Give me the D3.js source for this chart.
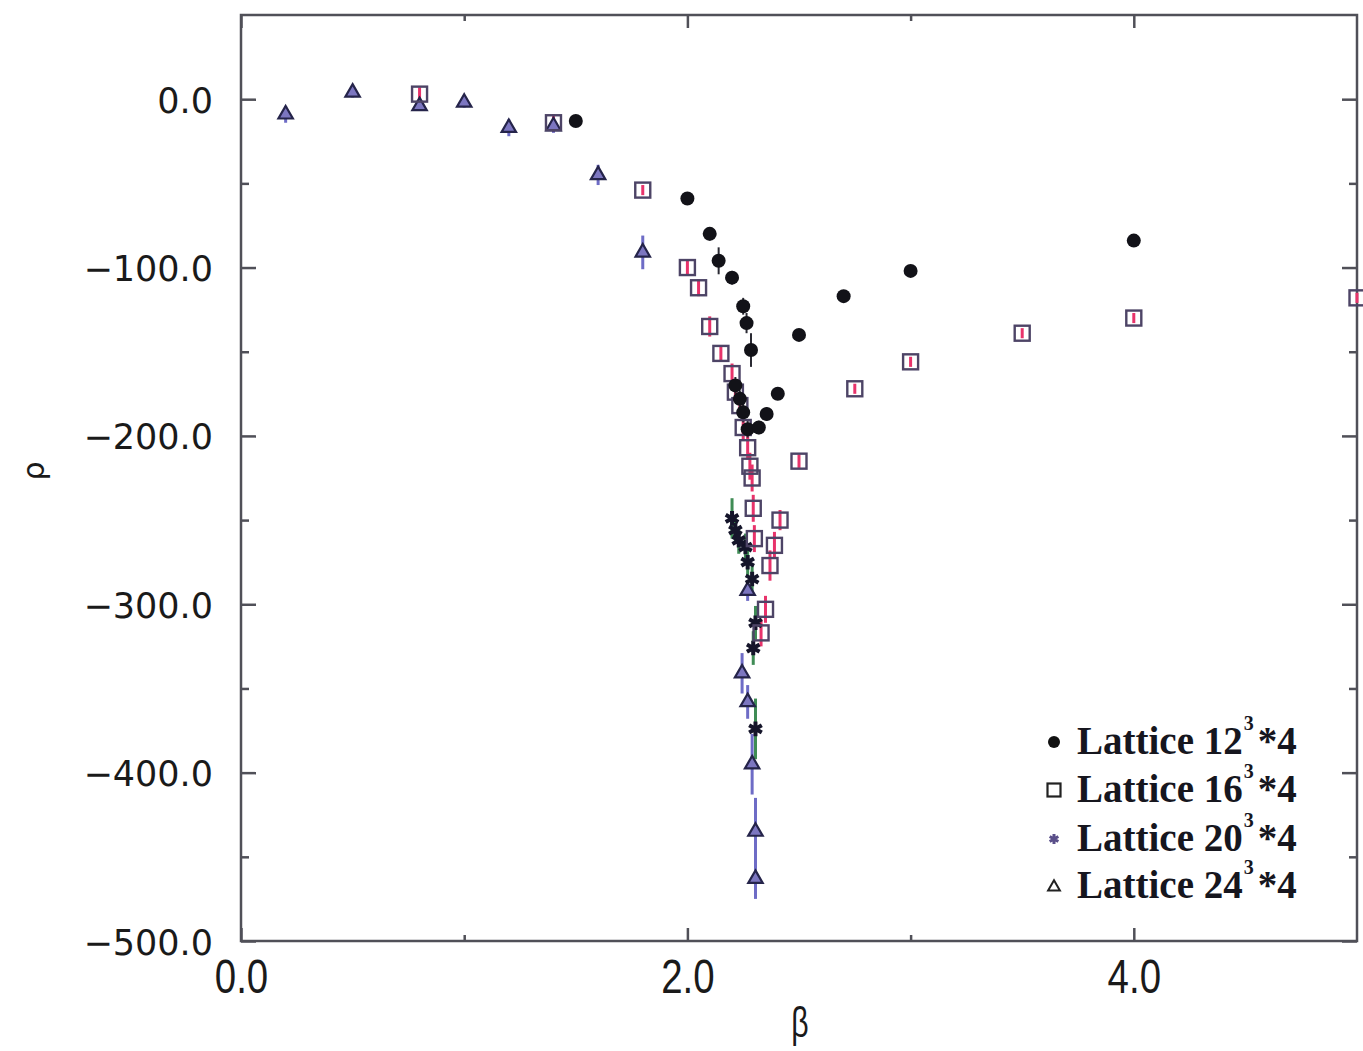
<!DOCTYPE html>
<html>
<head>
<meta charset="utf-8">
<script src="https://cdn.jsdelivr.net/npm/d3@7"></script>
<style>
  body { margin: 0; background: #ffffff; }
  svg { display: block; }
</style>
</head>
<body>
<svg id="chart" width="1363" height="1051"></svg>
<script>
// Each entry: [beta, rho, error]
const lattice12 = [
  [1.5, -13, 2], [2.0, -59, 3], [2.1, -80, 4], [2.14, -96, 8], [2.2, -106, 4],
  [2.25, -123, 5], [2.265, -133, 6], [2.285, -149, 10],
  [2.215, -170, 5], [2.235, -178, 5], [2.25, -186, 6], [2.27, -196, 5],
  [2.32, -195, 4], [2.355, -187, 4], [2.405, -175, 3],
  [2.5, -140, 3], [2.7, -117, 3], [3.0, -102, 2], [4.0, -84, 2]
];
const lattice16 = [
  [0.8, 3, 4], [1.4, -14, 5], [1.8, -54, 3], [2.0, -100, 4], [2.05, -112, 5],
  [2.1, -135, 6], [2.15, -151, 5], [2.2, -163, 6], [2.215, -174, 6],
  [2.235, -182, 6], [2.25, -195, 7], [2.27, -207, 7], [2.28, -218, 8],
  [2.29, -225, 8], [2.295, -243, 8], [2.3, -261, 8], [2.33, -317, 8],
  [2.35, -303, 8], [2.37, -277, 9], [2.39, -265, 8], [2.415, -250, 6],
  [2.5, -215, 4], [2.75, -172, 3], [3.0, -156, 3], [3.5, -139, 3],
  [4.0, -130, 3], [5.0, -118, 3]
];
const lattice20 = [
  [2.2, -249, 12], [2.215, -256, 8], [2.23, -262, 8], [2.26, -266, 8],
  [2.27, -275, 8], [2.29, -285, 8], [2.305, -311, 10], [2.295, -326, 10],
  [2.305, -374, 18]
];
const lattice24 = [
  [0.2, -9, 5], [0.5, 4, 3], [0.8, -4, 3], [1.0, -2, 3], [1.2, -17, 5],
  [1.4, -16, 4], [1.6, -45, 6], [1.8, -91, 10], [2.27, -292, 6],
  [2.245, -341, 12], [2.27, -358, 10], [2.29, -395, 18], [2.305, -435, 20],
  [2.305, -463, 12]
];

const xMajorTicks = [0, 2, 4];
const xMinorTicks = [1, 3];
const yMajorTicks = [0, -100, -200, -300, -400, -500];
const yMinorTicks = [-50, -150, -250, -350, -450];
const legendSizes = ["12", "16", "20", "24"];

const svg = d3.select("#chart");
const x = d3.scaleLinear().domain([0, 5]).range([241, 1357]);
const y = d3.scaleLinear().domain([-500, 50]).range([941, 15]);

const axisColor = "#505058";
const fmt = d3.format(".1f");

// plot frame
svg.append("rect")
  .attr("x", x(0)).attr("y", y(50))
  .attr("width", x(5) - x(0)).attr("height", y(-500) - y(50))
  .attr("fill", "none").attr("stroke", axisColor).attr("stroke-width", 2.5);

function styleAxis(g) {
  g.select(".domain").remove();
  g.selectAll(".tick line").attr("stroke", axisColor).attr("stroke-width", 2.5);
}

// bottom axis with labels
const gx = svg.append("g").attr("transform", `translate(0,${y(-500)})`)
  .call(d3.axisBottom(x).tickValues(xMajorTicks).tickSize(-13).tickFormat(fmt));
styleAxis(gx);
gx.selectAll(".tick text")
  .attr("y", 52).attr("dy", 0)
  .attr("transform", "scale(0.8,1)")
  .attr("font-family", "Liberation Sans, Arial, sans-serif")
  .attr("font-size", 48).attr("fill", "#1a1a1a");
svg.append("g").attr("transform", `translate(0,${y(-500)})`)
  .call(d3.axisBottom(x).tickValues(xMinorTicks).tickSize(-6).tickFormat(""))
  .call(styleAxis);

// top axis ticks
svg.append("g").attr("transform", `translate(0,${y(50)})`)
  .call(d3.axisTop(x).tickValues(xMajorTicks).tickSize(-13).tickFormat(""))
  .call(styleAxis);
svg.append("g").attr("transform", `translate(0,${y(50)})`)
  .call(d3.axisTop(x).tickValues(xMinorTicks).tickSize(-6).tickFormat(""))
  .call(styleAxis);

// left axis with labels
const gy = svg.append("g").attr("transform", `translate(${x(0)},0)`)
  .call(d3.axisLeft(y).tickValues(yMajorTicks).tickSize(-15).tickFormat(fmt));
styleAxis(gy);
gy.selectAll(".tick text")
  .attr("x", -28).attr("dy", 0).attr("y", 13)
  .attr("font-family", "DejaVu Sans, sans-serif")
  .attr("font-size", 35).attr("fill", "#1a1a1a");
svg.append("g").attr("transform", `translate(${x(0)},0)`)
  .call(d3.axisLeft(y).tickValues(yMinorTicks).tickSize(-8).tickFormat(""))
  .call(styleAxis);

// right axis ticks
svg.append("g").attr("transform", `translate(${x(5)},0)`)
  .call(d3.axisRight(y).tickValues(yMajorTicks).tickSize(-15).tickFormat(""))
  .call(styleAxis);
svg.append("g").attr("transform", `translate(${x(5)},0)`)
  .call(d3.axisRight(y).tickValues(yMinorTicks).tickSize(-8).tickFormat(""))
  .call(styleAxis);

// axis titles
svg.append("text")
  .attr("transform", "translate(800,1037) scale(0.72,1)")
  .attr("text-anchor", "middle")
  .attr("font-family", "Liberation Sans, Arial, sans-serif")
  .attr("font-size", 42).attr("fill", "#1a1a1a")
  .text("β");
svg.append("text")
  .attr("transform", "translate(44,471) rotate(-90)")
  .attr("text-anchor", "middle")
  .attr("font-family", "DejaVu Sans, sans-serif")
  .attr("font-size", 30).attr("fill", "#1a1a1a")
  .text("ρ");

// error bars
function errorBars(data, color, width) {
  svg.append("g").selectAll("line").data(data).join("line")
    .attr("x1", d => x(d[0])).attr("x2", d => x(d[0]))
    .attr("y1", d => y(d[1] + d[2])).attr("y2", d => y(d[1] - d[2]))
    .attr("stroke", color).attr("stroke-width", width);
}
errorBars(lattice24, "#6e6cc6", 3);
errorBars(lattice20, "#3f8c55", 3);
errorBars(lattice16, "#e8336b", 3);
errorBars(lattice12, "#2a2a33", 2);

const tri = d3.symbol().type(d3.symbolTriangle).size(90);
const star = d3.symbol().type(d3.symbolAsterisk).size(150);

// 24^3 triangles
svg.append("g").selectAll("path").data(lattice24).join("path")
  .attr("transform", d => `translate(${x(d[0])},${y(d[1])})`)
  .attr("d", tri)
  .attr("fill", "#7c76c0").attr("stroke", "#25244a").attr("stroke-width", 2.2);

// 20^3 stars
svg.append("g").selectAll("path").data(lattice20).join("path")
  .attr("transform", d => `translate(${x(d[0])},${y(d[1])})`)
  .attr("d", star)
  .attr("fill", "none").attr("stroke", "#15152a").attr("stroke-width", 4);

// 16^3 open squares
svg.append("g").selectAll("rect").data(lattice16).join("rect")
  .attr("x", d => x(d[0]) - 7.5).attr("y", d => y(d[1]) - 7.5)
  .attr("width", 15).attr("height", 15)
  .attr("fill", "none").attr("stroke", "#4d4466").attr("stroke-width", 2.4);

// 12^3 filled circles
svg.append("g").selectAll("circle").data(lattice12).join("circle")
  .attr("cx", d => x(d[0])).attr("cy", d => y(d[1]))
  .attr("r", 7).attr("fill", "#121218");

// legend
const legendX = 1054, textX = 1077;
const rowY = [742, 790, 839, 886];
const lg = svg.append("g");
lg.append("circle").attr("cx", legendX).attr("cy", rowY[0]).attr("r", 6).attr("fill", "#111");
lg.append("rect").attr("x", legendX - 6.5).attr("y", rowY[1] - 6.5)
  .attr("width", 13).attr("height", 13)
  .attr("fill", "none").attr("stroke", "#222").attr("stroke-width", 2.2);
lg.append("path").attr("transform", `translate(${legendX},${rowY[2]})`)
  .attr("d", d3.symbol().type(d3.symbolAsterisk).size(70))
  .attr("fill", "none").attr("stroke", "#5a4f8a").attr("stroke-width", 3);
lg.append("path").attr("transform", `translate(${legendX},${rowY[3] + 1})`)
  .attr("d", d3.symbol().type(d3.symbolTriangle).size(60))
  .attr("fill", "none").attr("stroke", "#222").attr("stroke-width", 2);

legendSizes.forEach((s, i) => {
  const t = lg.append("text")
    .attr("x", textX).attr("y", rowY[i] + 12)
    .attr("font-family", "Liberation Serif, Times New Roman, serif")
    .attr("font-weight", "bold").attr("font-size", 39).attr("fill", "#16161e");
  t.append("tspan").text("Lattice " + s);
  t.append("tspan").attr("dy", -24).attr("dx", 1).attr("font-size", 20).text("3");
  t.append("tspan").attr("dy", 24).attr("dx", 4).text("*4");
});
</script>
</body>
</html>
